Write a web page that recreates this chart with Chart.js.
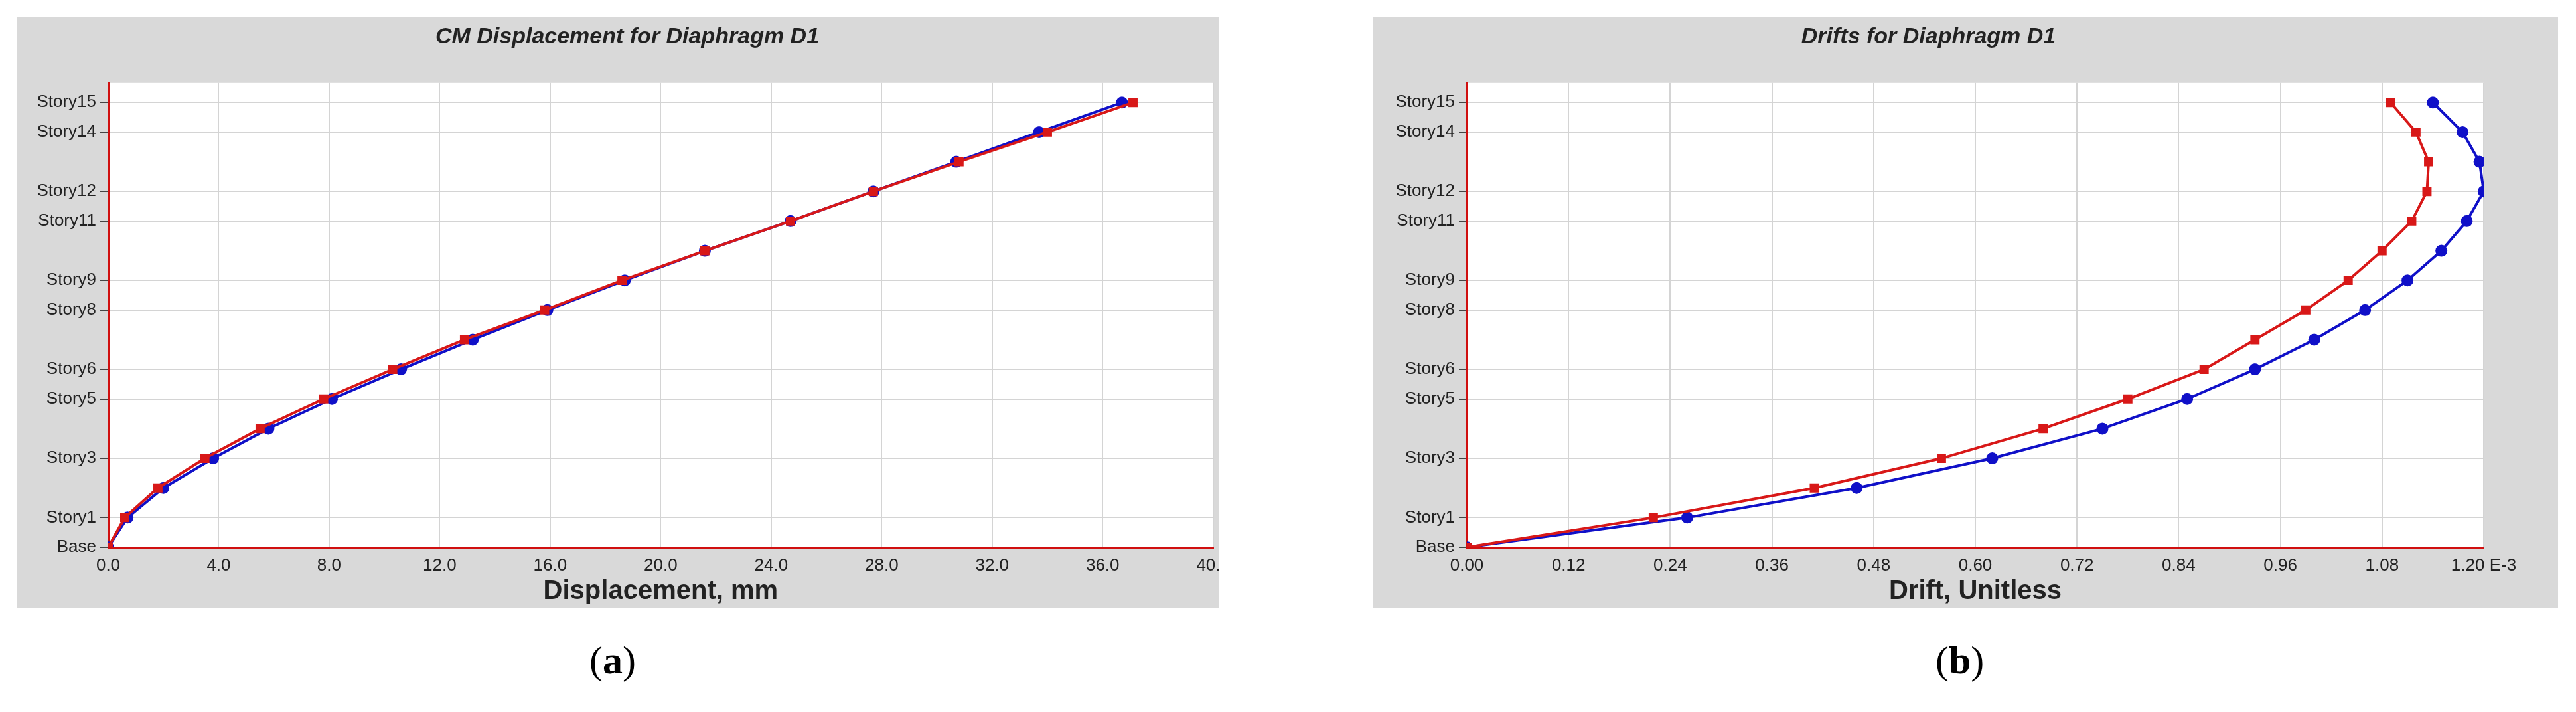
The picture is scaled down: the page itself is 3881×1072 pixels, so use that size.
<!DOCTYPE html>
<html>
<head>
<meta charset="utf-8">
<script src="https://cdn.jsdelivr.net/npm/chart.js@4.4.0/dist/chart.umd.min.js"></script>
<style>
  body { margin: 0; background: #fff; width: 3881px; height: 1072px; position: relative; overflow: hidden; }
  .box { position: absolute; background: #d9d9d9; overflow: hidden; }
  .cap { position: absolute; top: 960px; font-family: "Liberation Serif", serif; font-size: 60px; }
  .cap b { font-weight: bold; }
</style>
</head>
<body>
<div class="box" style="left:25px;top:25px;width:1812px;height:890px;"><canvas id="chartA"></canvas></div>
<div class="box" style="left:2069px;top:25px;width:1785px;height:890px;"><canvas id="chartB"></canvas></div>
<div class="cap" style="left:888px;">(<b>a</b>)</div>
<div class="cap" style="left:2916px;">(<b>b</b>)</div>
<script>
// ------------------ //
//  DATA              //
// ------------------ //

// story levels, Base = 0 ... Story15 = 15
var storyLevels = [0, 1, 2, 3, 4, 5, 6, 7, 8, 9, 10, 11, 12, 13, 14, 15];
var storyTicks = [0, 1, 3, 5, 6, 8, 9, 11, 12, 14, 15];

// CM displacement, mm
var dispBlue = [0, 0.7, 2.0, 3.8, 5.8, 8.1, 10.6, 13.2, 15.9, 18.7, 21.6, 24.7, 27.7, 30.7, 33.7, 36.7];
var dispRed  = [0, 0.6, 1.8, 3.5, 5.5, 7.8, 10.3, 12.9, 15.8, 18.6, 21.6, 24.7, 27.7, 30.8, 34.0, 37.1];

// drift, E-3
var driftBlue = [0, 0.26, 0.46, 0.62, 0.75, 0.85, 0.93, 1.00, 1.06, 1.11, 1.15, 1.18, 1.20, 1.195, 1.175, 1.14];
var driftRed  = [0, 0.22, 0.41, 0.56, 0.68, 0.78, 0.87, 0.93, 0.99, 1.04, 1.08, 1.115, 1.133, 1.135, 1.12, 1.09];

// ------------------ //
//  HELPERS           //
// ------------------ //

function storyName(v) {
  return v === 0 ? "Base" : "Story" + v;
}

function toPoints(xs) {
  return xs.map(function (x, i) { return { x: x, y: storyLevels[i] }; });
}

// paints the plot area white on top of the gray box
var whitePlot = {
  id: "whitePlot",
  beforeDraw: function (chart) {
    var a = chart.chartArea, ctx = chart.ctx;
    ctx.save();
    ctx.fillStyle = "#ffffff";
    ctx.fillRect(a.left, a.top, a.right - a.left, a.bottom - a.top);
    ctx.restore();
  }
};

var font = "'Liberation Sans', Arial, sans-serif";

function makeChart(id, title, xTitle, blue, red, xMax, xStep, decimals, lastSuffix, yWidth, rightPad) {
  new Chart(document.getElementById(id), {
    type: "line",
    data: {
      datasets: [{
        data: toPoints(blue),
        order: 1,
        borderColor: "#1010c8",
        backgroundColor: "#1010c8",
        borderWidth: 4,
        pointStyle: "circle",
        pointRadius: 7,
        tension: 0
      }, {
        data: toPoints(red),
        order: 0,
        borderColor: "#d81818",
        backgroundColor: "#d81818",
        borderWidth: 4,
        pointStyle: "rect",
        pointRadius: 7,
        tension: 0
      }]
    },
    plugins: [whitePlot],
    options: {
      responsive: false,
      animation: false,
      layout: { padding: { top: 0, right: rightPad, left: 0, bottom: 0 } },
      plugins: {
        legend: { display: false },
        tooltip: { enabled: false },
        title: {
          display: true,
          text: title,
          color: "#222",
          padding: { top: 10, bottom: 49 },
          font: { family: font, size: 34, weight: "bold", style: "italic" }
        }
      },
      scales: {
        x: {
          type: "linear",
          min: 0,
          max: xMax,
          border: { color: "#d01010", width: 3 },
          grid: { color: "#d4d4d4", lineWidth: 2, drawTicks: false },
          afterBuildTicks: function (scale) {
            var t = [];
            for (var i = 0; i <= 10; i++) t.push({ value: +(i * xStep).toFixed(4) });
            scale.ticks = t;
          },
          afterFit: function (scale) { scale.height = 91; },
          ticks: {
            color: "#222",
            padding: 12,
            maxRotation: 0,
            font: { family: font, size: 26 },
            callback: function (v, i) {
              var s = Number(v).toFixed(decimals);
              return i === 10 ? s + lastSuffix : s;
            }
          },
          title: {
            display: true,
            text: xTitle,
            color: "#222",
            padding: { top: 4, bottom: 0 },
            font: { family: font, size: 40, weight: "bold" }
          }
        },
        y: {
          type: "linear",
          min: 0,
          max: 15.66,
          border: { color: "#d01010", width: 3 },
          grid: { color: "#d4d4d4", lineWidth: 2, tickLength: 12, tickColor: "#444" },
          afterBuildTicks: function (scale) {
            scale.ticks = storyTicks.map(function (v) { return { value: v }; });
          },
          afterFit: function (scale) { scale.width = yWidth; },
          ticks: {
            color: "#222",
            padding: 6,
            font: { family: font, size: 26 },
            callback: function (v) { return storyName(v); }
          }
        }
      }
    }
  });
}

function sizeCanvas(id, w, h) {
  var c = document.getElementById(id);
  c.width = w; c.height = h;
  c.style.width = w + "px"; c.style.height = h + "px";
}

// chart A canvas is wider than its box so the last tick label is clipped
sizeCanvas("chartA", 1840, 890);
sizeCanvas("chartB", 1785, 890);

makeChart("chartA", "CM Displacement for Diaphragm D1", "Displacement, mm",
  dispBlue, dispRed, 40, 4, 1, "", 138, 0);
makeChart("chartB", "Drifts for Diaphragm D1", "Drift, Unitless",
  driftBlue, driftRed, 1.2, 0.12, 2, " E-3", 141, 112);
</script>
</body>
</html>
